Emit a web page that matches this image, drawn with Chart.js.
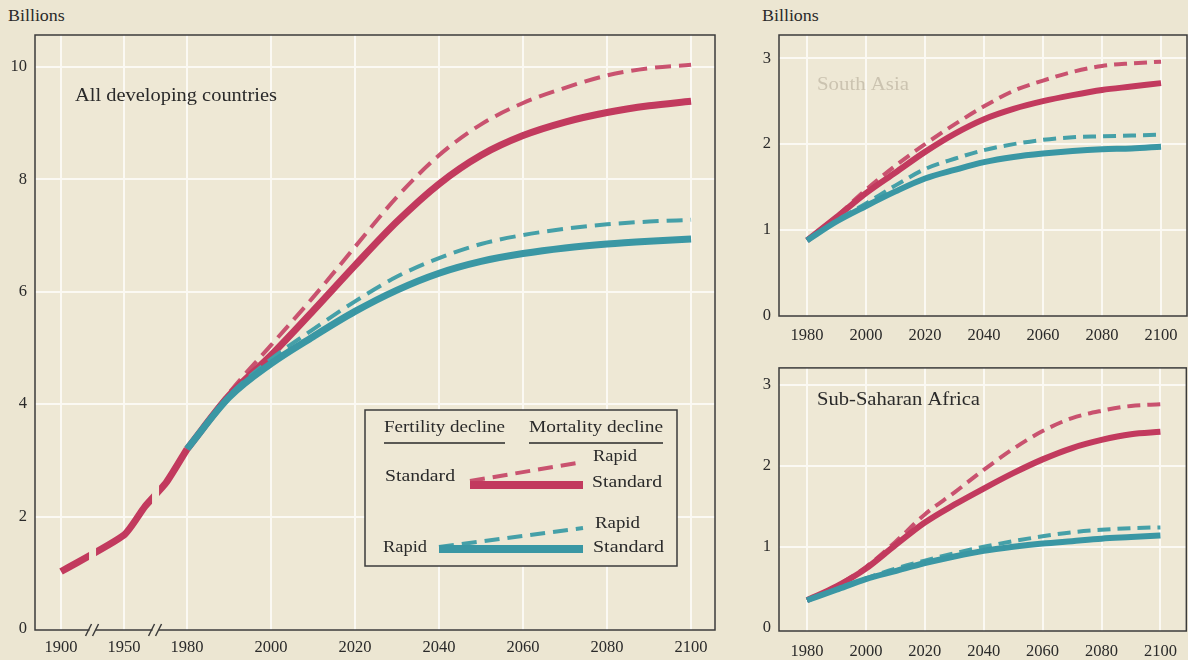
<!DOCTYPE html>
<html>
<head>
<meta charset="utf-8">
<script src="https://cdn.jsdelivr.net/npm/chart.js@4/dist/chart.umd.min.js"></script>
<style>
  html, body { margin: 0; padding: 0; background: #ece6d2; }
  body { width: 1188px; height: 660px; position: relative; overflow: hidden; font-family: "Liberation Serif", serif; }
  .box { position: absolute; }
  .unit { position: absolute; font-size: 16px; color: #2a2a2a; transform: scaleX(1.12); transform-origin: 0 0; }
</style>
</head>
<body>
<div class="unit" style="left:8px;top:7px">Billions</div>
<div class="unit" style="left:762px;top:7px">Billions</div>
<div class="box" style="left:0;top:0;width:740px;height:660px"><canvas id="dev"></canvas></div>
<div class="box" style="left:740px;top:0;width:448px;height:350px"><canvas id="sa"></canvas></div>
<div class="box" style="left:740px;top:350px;width:448px;height:310px"><canvas id="ssa"></canvas></div>
<script>
// ---- data (billions) ----
const historyYears  = [1900, 1950, 1960, 1970, 1980];
const historyValues = [1.02, 1.67, 2.18, 2.6, 3.2];

const projYears = [1980, 1990, 2000, 2010, 2020, 2030, 2040, 2050, 2060, 2070, 2080, 2090, 2100];

// All developing countries
const devStdStd     = [3.2, 4.15, 4.87, 5.66, 6.47, 7.25, 7.92, 8.43, 8.78, 9.02, 9.19, 9.31, 9.39];
const devStdRapid   = [3.2, 4.2, 5.05, 5.9, 6.8, 7.69, 8.43, 8.98, 9.36, 9.63, 9.85, 9.98, 10.04];
const devRapidStd   = [3.2, 4.12, 4.72, 5.2, 5.65, 6.03, 6.33, 6.54, 6.68, 6.78, 6.85, 6.9, 6.94];
const devRapidRapid = [3.2, 4.15, 4.8, 5.33, 5.83, 6.27, 6.6, 6.85, 7.01, 7.12, 7.2, 7.25, 7.28];

// South Asia
const saStdStd     = [0.88, 1.15, 1.43, 1.67, 1.91, 2.12, 2.29, 2.41, 2.5, 2.57, 2.63, 2.67, 2.71];
const saStdRapid   = [0.88, 1.16, 1.47, 1.75, 2.0, 2.23, 2.44, 2.62, 2.74, 2.84, 2.91, 2.94, 2.96];
const saRapidStd   = [0.88, 1.1, 1.28, 1.45, 1.6, 1.7, 1.79, 1.85, 1.89, 1.92, 1.94, 1.95, 1.97];
const saRapidRapid = [0.88, 1.11, 1.31, 1.52, 1.71, 1.83, 1.93, 2.0, 2.05, 2.08, 2.09, 2.1, 2.11];

// Sub-Saharan Africa
const ssaStdStd     = [0.34, 0.51, 0.73, 1.02, 1.3, 1.52, 1.72, 1.91, 2.08, 2.22, 2.32, 2.39, 2.42];
const ssaStdRapid   = [0.34, 0.52, 0.75, 1.06, 1.4, 1.67, 1.95, 2.21, 2.43, 2.59, 2.68, 2.74, 2.76];
const ssaRapidStd   = [0.34, 0.47, 0.6, 0.7, 0.8, 0.88, 0.95, 1.0, 1.04, 1.07, 1.1, 1.12, 1.14];
const ssaRapidRapid = [0.34, 0.48, 0.61, 0.73, 0.83, 0.92, 1.0, 1.07, 1.13, 1.18, 1.21, 1.23, 1.24];

// axis ticks
const leftTickYears  = [1900, 1950, 1980, 2000, 2020, 2040, 2060, 2080, 2100];
const rightTickYears = [1980, 2000, 2020, 2040, 2060, 2080, 2100];
const leftValueTicks  = [0, 2, 4, 6, 8, 10];
const rightValueTicks = [0, 1, 2, 3];
const axisBreakYears  = [1925, 1965];

// ---- styling ----
const FONT = '"Liberation Serif", serif';
const INK = '#2a2a2a';
const PLOT_BG = '#eee8d5';
const GRID = '#fbf9f3';
const RED = '#c23a5e';
const RED_DASH = '#c9526f';
const TEAL = '#3a97a4';
const TEAL_DASH = '#45a0a8';

// compressed time axis: 1900-1950 and 1950-1980 are squeezed
function axisPos(year) {
  if (year >= 1980) return year - 1980;
  if (year >= 1950) return (year - 1980) * 0.5;
  return -15 + (year - 1950) * 0.3;
}

function series(years, values, color, dashed, width, map, dash) {
  return {
    data: years.map((yr, i) => ({ x: map(yr), y: values[i] })),
    borderColor: color,
    borderWidth: width,
    borderDash: dashed ? dash : [],
    borderCapStyle: 'butt',
    pointRadius: 0,
    cubicInterpolationMode: 'monotone',
    fill: false
  };
}

// draws text in a wide book face: the serif is stretched to the given width
function wideText(ctx, text, x, y, size, width, color) {
  ctx.save();
  ctx.font = size + 'px ' + FONT;
  ctx.fillStyle = color || INK;
  ctx.textBaseline = 'middle';
  const w = ctx.measureText(text).width;
  ctx.translate(x, y);
  ctx.scale(width / w, 1);
  ctx.fillText(text, 0, 0);
  ctx.restore();
}

const plotFrame = {
  id: 'plotFrame',
  beforeDraw(chart) {
    const { ctx, chartArea: a } = chart;
    ctx.save();
    ctx.fillStyle = PLOT_BG;
    ctx.fillRect(a.left, a.top, a.width, a.height);
    ctx.restore();
  },
  beforeDatasetsDraw(chart) {
    const { ctx, chartArea: a } = chart;
    ctx.save();
    ctx.strokeStyle = '#3b3b3b';
    ctx.lineWidth = 1.5;
    ctx.strokeRect(a.left, a.top, a.width, a.height);
    ctx.restore();
  }
};

function titlePlugin(text, x, y, width, color) {
  return {
    id: 'panelTitle',
    afterDatasetsDraw(chart) {
      wideText(chart.ctx, text, x, y, 18, width, color);
    }
  };
}

// gaps in the historical line where the time axis is broken
const breakClip = {
  id: 'breakClip',
  beforeDatasetDraw(chart, args) {
    if (chart.data.datasets[args.index].role !== 'history') return;
    const { ctx, chartArea: a, scales } = chart;
    ctx.save();
    ctx.beginPath();
    ctx.rect(a.left, a.top, a.width, a.height);
    axisBreakYears.forEach(b => {
      const px = scales.x.getPixelForValue(axisPos(b));
      ctx.rect(px - 3.5, a.top, 7, a.height);
    });
    ctx.clip('evenodd');
  },
  afterDatasetDraw(chart, args) {
    if (chart.data.datasets[args.index].role !== 'history') return;
    chart.ctx.restore();
  }
};

const breakMarks = {
  id: 'breakMarks',
  afterDraw(chart) {
    const { ctx, chartArea: a, scales } = chart;
    ctx.save();
    axisBreakYears.forEach(b => {
      const px = scales.x.getPixelForValue(axisPos(b));
      ctx.fillStyle = '#ece6d2';
      ctx.fillRect(px - 3, a.bottom - 2, 6, 4);
      ctx.strokeStyle = '#3b3b3b';
      ctx.lineWidth = 1.5;
      [-4, 3].forEach(off => {
        ctx.beginPath();
        ctx.moveTo(px + off - 3, a.bottom + 6);
        ctx.lineTo(px + off + 3, a.bottom - 6);
        ctx.stroke();
      });
    });
    ctx.restore();
  }
};

const scenarioKey = {
  id: 'scenarioKey',
  afterDatasetsDraw(chart) {
    const ctx = chart.ctx;
    ctx.save();
    ctx.fillStyle = PLOT_BG;
    ctx.fillRect(365, 410, 312, 156);
    ctx.strokeStyle = '#3b3b3b';
    ctx.lineWidth = 1.5;
    ctx.strokeRect(365, 410, 312, 156);

    wideText(ctx, 'Fertility decline', 384, 428, 16, 121);
    wideText(ctx, 'Mortality decline', 529, 428, 16, 134);
    ctx.strokeStyle = INK;
    ctx.lineWidth = 1.3;
    ctx.beginPath();
    ctx.moveTo(384, 443); ctx.lineTo(505, 443);
    ctx.moveTo(529, 443); ctx.lineTo(663, 443);
    ctx.stroke();

    wideText(ctx, 'Standard', 385, 477, 16, 70);
    wideText(ctx, 'Rapid', 593, 457, 16, 44);
    wideText(ctx, 'Standard', 592, 483, 16, 70);
    wideText(ctx, 'Rapid', 383, 548, 16, 44);
    wideText(ctx, 'Rapid', 595, 524, 16, 45);
    wideText(ctx, 'Standard', 593, 548, 16, 71);

    ctx.lineCap = 'butt';
    // standard fertility
    ctx.strokeStyle = RED_DASH; ctx.lineWidth = 4; ctx.setLineDash([15, 8]);
    ctx.beginPath(); ctx.moveTo(470, 481); ctx.lineTo(583, 462); ctx.stroke();
    ctx.strokeStyle = RED; ctx.lineWidth = 8; ctx.setLineDash([]);
    ctx.beginPath(); ctx.moveTo(470, 485); ctx.lineTo(583, 485); ctx.stroke();
    // rapid fertility
    ctx.strokeStyle = TEAL_DASH; ctx.lineWidth = 4; ctx.setLineDash([15, 8]);
    ctx.beginPath(); ctx.moveTo(439, 547); ctx.lineTo(583, 528); ctx.stroke();
    ctx.strokeStyle = TEAL; ctx.lineWidth = 8; ctx.setLineDash([]);
    ctx.beginPath(); ctx.moveTo(439, 549); ctx.lineTo(583, 549); ctx.stroke();
    ctx.restore();
  }
};

const tickFont = { family: FONT, size: 16.5 };

// ---- all developing countries ----
const leftDash = [16, 8];
new Chart(document.getElementById('dev'), {
  type: 'line',
  data: {
    datasets: [
      Object.assign(series(historyYears, historyValues, RED, false, 7, axisPos, leftDash), { role: 'history', cubicInterpolationMode: 'default', tension: 0.2 }),
      series(projYears, devRapidStd, TEAL, false, 7, axisPos, leftDash),
      series(projYears, devRapidRapid, TEAL_DASH, true, 4, axisPos, leftDash),
      series(projYears, devStdStd, RED, false, 7, axisPos, leftDash),
      series(projYears, devStdRapid, RED_DASH, true, 4, axisPos, leftDash)
    ]
  },
  options: {
    responsive: true,
    maintainAspectRatio: false,
    animation: false,
    layout: { padding: { top: 35, right: 25, left: 0, bottom: 0 } },
    plugins: { legend: { display: false }, tooltip: { enabled: false } },
    scales: {
      x: {
        type: 'linear', min: -36.2, max: 125.7,
        afterBuildTicks: s => { s.ticks = leftTickYears.map(y => ({ value: axisPos(y) })); },
        afterFit: s => { s.height = 30; },
        ticks: { font: tickFont, color: INK, padding: 8, maxRotation: 0, autoSkip: false,
                 callback: (v, i) => String(leftTickYears[i]) },
        grid: { color: GRID, lineWidth: 2, drawTicks: false },
        border: { display: false }
      },
      y: {
        min: -0.02, max: 10.57,
        afterBuildTicks: s => { s.ticks = leftValueTicks.map(v => ({ value: v })); },
        afterFit: s => { s.width = 35; },
        ticks: { font: tickFont, color: INK, padding: 8 },
        grid: { color: ctx => ctx.tick && ctx.tick.value === 0 ? 'rgba(0,0,0,0)' : GRID, lineWidth: 2, drawTicks: false },
        border: { display: false }
      }
    }
  },
  plugins: [plotFrame, breakClip, breakMarks, scenarioKey, titlePlugin('All developing countries', 75, 96, 202, INK)]
});

// ---- regional panels ----
const rightDash = [13, 7];
const yearPos = y => y;
function regionChart(id, title, titleY, titleW, titleColor, sets, yMin, yMax, padTop, axisH, labelPad) {
  new Chart(document.getElementById(id), {
    type: 'line',
    data: {
      datasets: [
        series(projYears, sets[2], TEAL, false, 6, yearPos, rightDash),
        series(projYears, sets[3], TEAL_DASH, true, 4, yearPos, rightDash),
        series(projYears, sets[0], RED, false, 6, yearPos, rightDash),
        series(projYears, sets[1], RED_DASH, true, 4, yearPos, rightDash)
      ]
    },
    options: {
      responsive: true,
      maintainAspectRatio: false,
      animation: false,
      layout: { padding: { top: padTop, right: 1, left: 0, bottom: 0 } },
      plugins: { legend: { display: false }, tooltip: { enabled: false } },
      scales: {
        x: {
          type: 'linear', min: 1970.5, max: 2108.8,
          afterBuildTicks: s => { s.ticks = rightTickYears.map(y => ({ value: y })); },
          afterFit: s => { s.height = axisH; },
          ticks: { font: tickFont, color: INK, padding: labelPad, maxRotation: 0, autoSkip: false,
                   callback: v => String(v) },
          grid: { color: GRID, lineWidth: 2, drawTicks: false },
          border: { display: false }
        },
        y: {
          min: yMin, max: yMax,
          afterBuildTicks: s => { s.ticks = rightValueTicks.map(v => ({ value: v })); },
          afterFit: s => { s.width = 39; },
          ticks: { font: tickFont, color: INK, padding: 8 },
          grid: { color: ctx => ctx.tick && ctx.tick.value === 0 ? 'rgba(0,0,0,0)' : GRID, lineWidth: 2, drawTicks: false },
          border: { display: false }
        }
      }
    },
    plugins: [plotFrame, titlePlugin(title, 77, titleY, titleW, titleColor)]
  });
}

regionChart('sa', 'South Asia', 85, 92, '#cbc3b0',
  [saStdStd, saStdRapid, saRapidStd, saRapidRapid], 0, 3.27, 35, 34, 10);
regionChart('ssa', 'Sub-Saharan Africa', 50, 163, INK,
  [ssaStdStd, ssaStdRapid, ssaRapidStd, ssaRapidRapid], -0.04, 3.21, 7, 29, 11);
</script>
</body>
</html>
